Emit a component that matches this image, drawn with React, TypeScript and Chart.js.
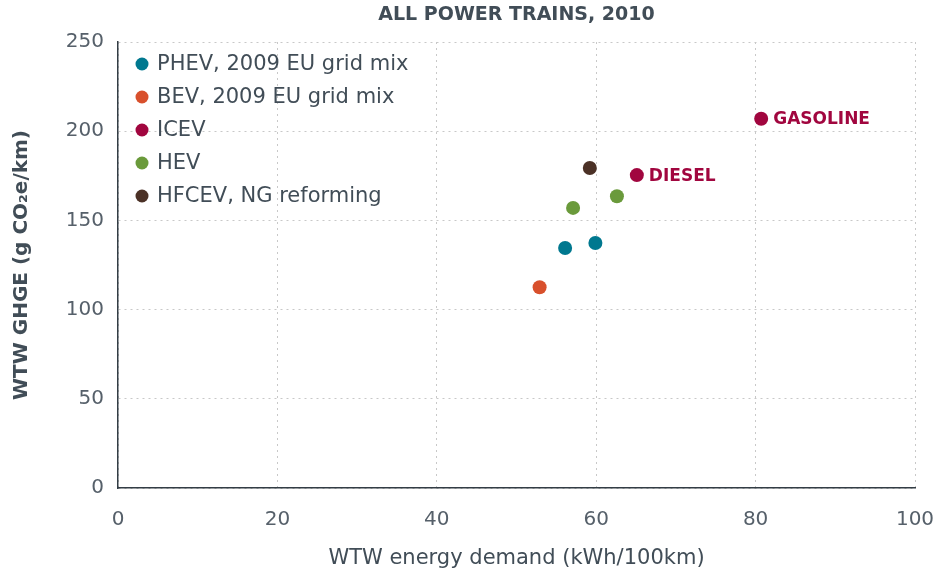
import React, { useEffect, useRef } from "react";
import { Chart, registerables } from "chart.js";
Chart.register(...registerables);

const seriesNames = ["PHEV, 2009 EU grid mix", "BEV, 2009 EU grid mix", "ICEV", "HEV", "HFCEV, NG reforming"];
const seriesColors = ["#00788f", "#d8502c", "#a1063f", "#6a9a3b", "#4b3126"];
const phevX = [56.1, 59.9];
const phevY = [134.5, 137.3];
const bevX = [52.9];
const bevY = [112.5];
const icevX = [65.1, 80.7];
const icevY = [175.4, 207.0];
const icevLabels = ["DIESEL", "GASOLINE"];
const hevX = [57.1, 62.6];
const hevY = [157.0, 163.5];
const hfcevX = [59.2];
const hfcevY = [179.4];
const xTicks = [0, 20, 40, 60, 80, 100];
const yTicks = [0, 50, 100, 150, 200, 250];
const chartTitle = "ALL POWER TRAINS, 2010";
const xTitle = "WTW energy demand (kWh/100km)";
const yTitle = "WTW GHGE (g CO₂e/km)";

const TEXT = "#414d57";
const FONT = "'DejaVu Sans', sans-serif";

const pts = (xs: number[], ys: number[]) => xs.map((x, i) => ({ x, y: ys[i] }));

export default function App() {
  const ref = useRef<HTMLCanvasElement>(null);
  useEffect(() => {
    document.body.style.margin = "0";
    const allX = [phevX, bevX, icevX, hevX, hfcevX];
    const allY = [phevY, bevY, icevY, hevY, hfcevY];
    const datasets = seriesNames.map((name, i) => ({
      label: name,
      data: pts(allX[i], allY[i]),
      backgroundColor: seriesColors[i],
      borderColor: seriesColors[i],
      pointRadius: 7,
      pointHoverRadius: 7,
      borderWidth: 0,
    }));

    const overlay = {
      id: "overlay",
      afterDraw(chart: any) {
        const ctx = chart.ctx;
        const area = chart.chartArea;
        const xs = chart.scales.x;
        const ys = chart.scales.y;
        ctx.save();
        // title
        ctx.fillStyle = TEXT;
        ctx.font = `bold 19px ${FONT}`;
        ctx.textAlign = "center";
        ctx.textBaseline = "middle";
        ctx.fillText(chartTitle, (area.left + area.right) / 2, 15);
        // legend
        ctx.font = `21px ${FONT}`;
        ctx.textAlign = "left";
        seriesNames.forEach((name, i) => {
          const y = 64 + i * 33;
          ctx.fillStyle = seriesColors[i];
          ctx.beginPath();
          ctx.arc(142, y, 6.5, 0, Math.PI * 2);
          ctx.fill();
          ctx.fillStyle = TEXT;
          ctx.fillText(name, 157, y + 1);
        });
        // point labels
        ctx.font = `bold 17px ${FONT}`;
        ctx.fillStyle = seriesColors[2];
        icevLabels.forEach((lab, i) => {
          const px = xs.getPixelForValue(icevX[i]);
          const py = ys.getPixelForValue(icevY[i]);
          ctx.fillText(lab, px + 12, py + 1);
        });
        ctx.restore();
      },
    };

    const chart = new Chart(ref.current!, {
      type: "scatter",
      data: { datasets },
      options: {
        animation: false,
        responsive: false,
        layout: { padding: { top: 42, right: 31, left: 0, bottom: 0 } },
        plugins: { legend: { display: false }, tooltip: { enabled: false }, title: { display: false } },
        scales: {
          x: {
            type: "linear",
            min: 0,
            max: 100,
            afterBuildTicks: (s: any) => { s.ticks = xTicks.map((v) => ({ value: v })); },
            afterFit: (s: any) => { s.height = 87; s.paddingLeft = 0; s.paddingRight = 0; },
            grid: { color: "#c8c8c8", drawTicks: false, lineWidth: 1 },
            border: { color: "#333d45", width: 1.5, dash: [2, 4] },
            ticks: { color: "#56606a", font: { family: FONT, size: 20 }, padding: 20 },
            title: { display: true, text: xTitle, color: TEXT, font: { family: FONT, size: 21, weight: "normal" }, padding: { top: 2 } },
          },
          y: {
            type: "linear",
            min: 0,
            max: 250,
            afterBuildTicks: (s: any) => { s.ticks = yTicks.map((v) => ({ value: v })); },
            afterFit: (s: any) => { s.width = 118; s.paddingTop = 0; s.paddingBottom = 0; },
            grid: { color: "#c8c8c8", drawTicks: false, lineWidth: 1 },
            border: { color: "#333d45", width: 1.5, dash: [2, 4] },
            ticks: { color: "#56606a", font: { family: FONT, size: 20 }, padding: 14 },
            title: { display: true, text: yTitle, color: TEXT, font: { family: FONT, size: 20, weight: "bold" }, padding: { top: 10, bottom: 0 } },
          },
        },
      } as any,
      plugins: [overlay],
    });
    return () => chart.destroy();
  }, []);
  return <canvas ref={ref} width={946} height={575} style={{ display: "block" }} />;
}
